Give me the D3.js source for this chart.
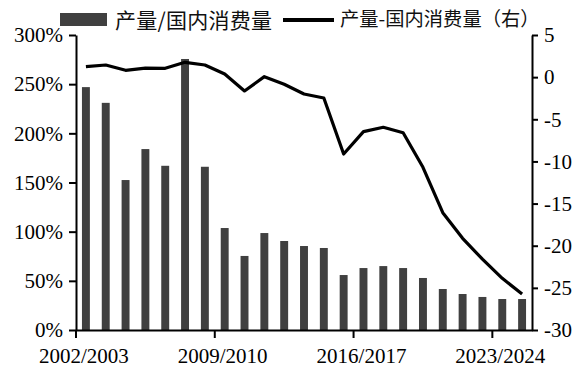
<!DOCTYPE html>
<html>
<head>
<meta charset="utf-8">
<script src="https://cdn.jsdelivr.net/npm/d3@7"></script>
<style>
  body { margin: 0; background: #fff; }
  .tick text { font-family: "Liberation Serif", "Times New Roman", serif; font-size: 21px; fill: #000; }
  .legend text { font-family: "Noto Sans CJK SC", sans-serif; font-size: 21px; fill: #111; }
</style>
</head>
<body>
<script>
// 产季
const seasons = ["2002/2003","2003/2004","2004/2005","2005/2006","2006/2007","2007/2008",
  "2008/2009","2009/2010","2010/2011","2011/2012","2012/2013","2013/2014","2014/2015",
  "2015/2016","2016/2017","2017/2018","2018/2019","2019/2020","2020/2021","2021/2022",
  "2022/2023","2023/2024","2024/2025"];
// 产量/国内消费量 (%)
const ratio = [247, 231, 152.5, 184, 167, 275.6, 166, 103.7, 75.3, 98.6, 90.5, 85.4, 83.4,
  55.9, 63, 65, 63, 52.9, 41.7, 36.6, 33.6, 31.5, 31.5];
// 产量-国内消费量 (右轴)
const diff = [1.24, 1.44, 0.81, 1.08, 1.05, 1.76, 1.44, 0.37, -1.64, 0.06, -0.85, -2.0, -2.47,
  -9.12, -6.47, -5.95, -6.59, -10.7, -16.08, -19.12, -21.6, -23.87, -25.73];
const leftTicks = [0, 0.5, 1, 1.5, 2, 2.5, 3];
const rightTicks = [-30, -25, -20, -15, -10, -5, 0, 5];
const xLabelIdx = [0, 7, 14, 21];
const legendNames = ["产量/国内消费量", "产量-国内消费量（右）"];

const width = 584, height = 376;
const margin = {top: 35, right: 52, bottom: 46, left: 76};

const svg = d3.select("body").append("svg")
  .attr("width", width)
  .attr("height", height);

const x = d3.scaleBand(seasons, [margin.left, width - margin.right]);
const yL = d3.scaleLinear([0, 3], [height - margin.bottom, margin.top]);
const yR = d3.scaleLinear([-30, 5], [height - margin.bottom, margin.top]);
const bw = x.bandwidth() * 0.4;

// bars
svg.append("g")
  .selectAll("rect")
  .data(seasons)
  .join("rect")
  .attr("x", d => x(d) + (x.bandwidth() - bw) / 2)
  .attr("width", bw)
  .attr("y", (d, i) => yL(ratio[i] / 100))
  .attr("height", (d, i) => yL(0) - yL(ratio[i] / 100))
  .attr("fill", "#404040");

// line
const line = d3.line()
  .x((d, i) => x(seasons[i]) + x.bandwidth() / 2)
  .y(d => yR(d));
svg.append("path")
  .datum(diff)
  .attr("d", line)
  .attr("fill", "none")
  .attr("stroke", "#000")
  .attr("stroke-width", 3.2)
  .attr("stroke-linejoin", "round");

// axes
const gx = svg.append("g")
  .attr("transform", `translate(0,${height - margin.bottom})`)
  .call(d3.axisBottom(x)
    .tickValues(xLabelIdx.map(i => seasons[i]))
    .tickSize(8).tickSizeOuter(0).tickPadding(10));
gx.selectAll(".tick line").attr("transform", `translate(${-x.bandwidth() / 2},0)`);
gx.selectAll(".tick text").attr("dx", -2);

svg.append("g")
  .attr("transform", `translate(${margin.left},0)`)
  .call(d3.axisLeft(yL)
    .tickValues(leftTicks)
    .tickFormat(d3.format(".0%"))
    .tickSize(7).tickSizeOuter(0).tickPadding(6));

svg.append("g")
  .attr("transform", `translate(${width - margin.right},0)`)
  .call(d3.axisRight(yR)
    .tickValues(rightTicks)
    .tickFormat(d => String(d))
    .tickSize(6).tickSizeOuter(0).tickPadding(6));

svg.selectAll(".domain, .tick line").attr("stroke", "#000").attr("stroke-width", 2);

// legend
const lg = svg.append("g").attr("class", "legend");
lg.append("rect").attr("x", 60).attr("y", 13).attr("width", 47).attr("height", 13).attr("fill", "#404040");
lg.append("text").attr("x", 115).attr("y", 20).attr("dy", "0.36em")
  .attr("textLength", 157).attr("lengthAdjust", "spacing").text(legendNames[0]);
lg.append("line").attr("x1", 283).attr("x2", 334).attr("y1", 20).attr("y2", 20)
  .attr("stroke", "#000").attr("stroke-width", 4);
lg.append("text").attr("x", 340).attr("y", 19).attr("dy", "0.36em")
  .style("font-size", "19.3px").text(legendNames[1]);
</script>
</body>
</html>
